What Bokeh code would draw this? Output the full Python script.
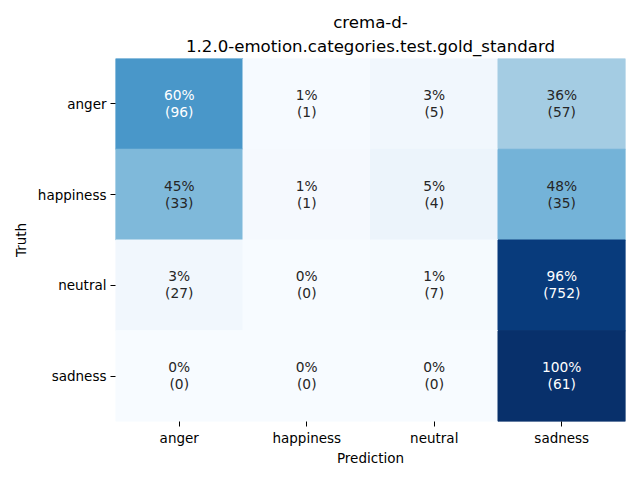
from bokeh.plotting import figure
from bokeh.models import ColumnDataSource, FactorRange, Title
from bokeh.embed import file_html
from bokeh.resources import INLINE
from bokeh.palettes import Blues256
from bokeh.core.properties import value

categories = ["anger", "happiness", "neutral", "sadness"]
counts = [
    [96, 1, 5, 57],
    [33, 1, 4, 35],
    [27, 0, 7, 752],
    [0, 0, 0, 61],
]
title_lines = ["crema-d-", "1.2.0-emotion.categories.test.gold_standard"]

palette = list(reversed(Blues256))  # light -> dark


def lum(hexc):
    r, g, b = (int(hexc[i:i + 2], 16) / 255 for i in (1, 3, 5))
    def f(c):
        return c / 12.92 if c <= 0.03928 else ((c + 0.055) / 1.055) ** 2.4
    return 0.2126 * f(r) + 0.7152 * f(g) + 0.0722 * f(b)


xs, ys, pct_txt, cnt_txt, fills, tcols = [], [], [], [], [], []
for i, truth in enumerate(categories):
    tot = sum(counts[i])
    for j, pred in enumerate(categories):
        p = 100.0 * counts[i][j] / tot
        idx = min(int(p / 100.0 * 256), 255)
        c = palette[idx]
        xs.append(pred)
        ys.append(truth)
        pct_txt.append(f"{round(p):d}%")
        cnt_txt.append(f"({counts[i][j]})")
        fills.append(c)
        tcols.append("#262626" if lum(c) > 0.408 else "#ffffff")

src = ColumnDataSource(dict(x=xs, y=ys, pct=pct_txt, cnt=cnt_txt, fill=fills, tc=tcols))

p = figure(width=640, height=480, output_backend="svg", toolbar_location=None,
           x_range=FactorRange(factors=categories),
           y_range=FactorRange(factors=list(reversed(categories))),
           min_border_left=115, min_border_right=15, min_border_top=58, min_border_bottom=59)

p.rect(x="x", y="y", width=1, height=1, source=src, fill_color="fill",
       line_color="fill", line_width=1)
p.text(x="x", y="y", text="pct", source=src, text_color="tc", text_align="center",
       text_baseline="middle", y_offset=-9, text_font=value("DejaVu Sans"), text_font_size="13.8px")
p.text(x="x", y="y", text="cnt", source=src, text_color="tc", text_align="center",
       text_baseline="middle", y_offset=8, text_font=value("DejaVu Sans"), text_font_size="13.8px")

p.title.visible = False
p.add_layout(Title(text=title_lines[1], align="center", text_font="DejaVu Sans",
                   text_font_size="16.6px", text_font_style="normal", text_color="#000000",
                   standoff=6), "above")
p.add_layout(Title(text=title_lines[0], align="center", text_font="DejaVu Sans",
                   text_font_size="16.6px", text_font_style="normal", text_color="#000000",
                   standoff=0), "above")

p.outline_line_color = None
p.grid.grid_line_color = None
for ax in (p.xaxis, p.yaxis):
    ax.axis_line_color = None
    ax.major_tick_in = 0
    ax.major_tick_out = 5
    ax.major_tick_line_color = "#000000"
    ax.major_label_text_font = "DejaVu Sans"
    ax.major_label_text_font_size = "13.5px"
    ax.major_label_text_color = "#000000"
    ax.axis_label_text_font = "DejaVu Sans"
    ax.axis_label_text_font_size = "13.5px"
    ax.axis_label_text_font_style = "normal"
    ax.axis_label_text_color = "#000000"
    ax.minor_tick_line_color = None
    ax.major_label_standoff = 4
p.xaxis.axis_label = "Prediction"
p.yaxis.axis_label = "Truth"
p.xaxis.axis_label_standoff = 1
p.xaxis.major_label_standoff = 3
p.yaxis.axis_label_standoff = 6
p.x_range.range_padding = 0
p.y_range.range_padding = 0

open("out.html", "w").write(file_html(p, INLINE))
